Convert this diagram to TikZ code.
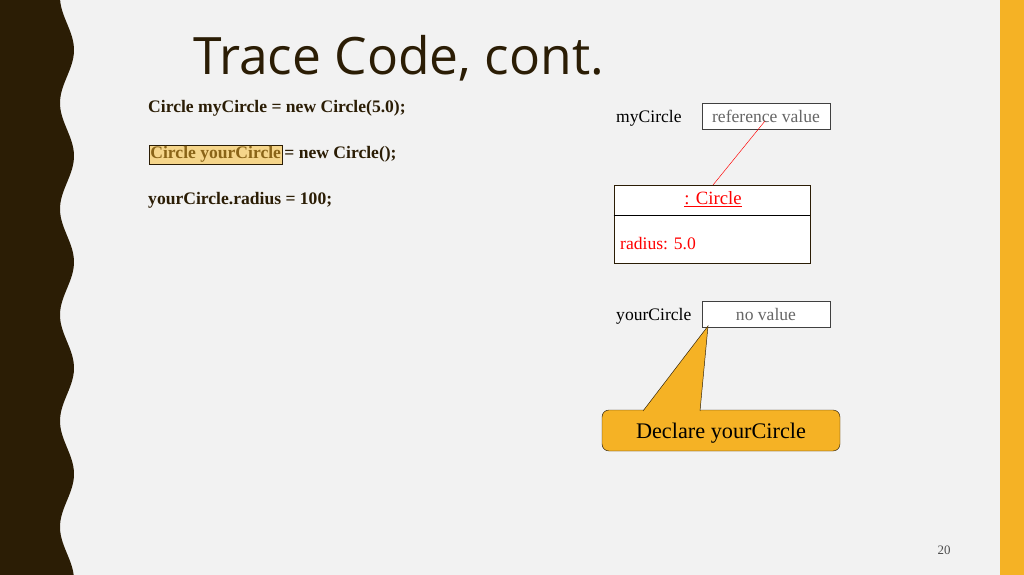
\documentclass[tikz,border=0pt]{standalone}
\usepackage{fontspec}
\setmainfont{Liberation Serif}
\newfontfamily\titlefont{Open Sans}
\usetikzlibrary{positioning}
\definecolor{darkbrown}{HTML}{2B1D05}
\definecolor{slidebg}{HTML}{F2F2F2}
\definecolor{amber}{HTML}{F5B225}
\definecolor{hilite}{HTML}{F5D58A}
\definecolor{hitext}{HTML}{8A6418}
\tikzset{
  code/.style={anchor=base west,font=\fontsize{15}{15}\selectfont\bfseries,text=darkbrown,inner sep=0pt},
  var/.style={anchor=base west,font=\fontsize{15}{15}\selectfont,inner sep=0pt},
  valbox/.style={draw=black!75,fill=white,minimum width=128*0.3mm,minimum height=26*0.3mm,inner sep=0pt,
    font=\fontsize{15}{15}\selectfont,text=black!60}
}
\begin{document}
\begin{tikzpicture}[x=0.3mm,y=-0.3mm]
  \useasboundingbox (0,0) rectangle (1024,575);
  \fill[slidebg] (0,0) rectangle (1024,575);
  \fill[amber] (1000,0) rectangle (1024,575);
  % wavy band on the left
  \fill[darkbrown] (0,0) -- plot[domain=0:575,samples=160,variable=\t]
    ({67+7*cos(3.396*(\t-50))},\t) -- (0,575) -- cycle;

  \node[anchor=base west,inner sep=0pt,font=\titlefont\fontsize{44}{44}\selectfont,text=darkbrown] (title) at (193,75) {Trace Code, cont.};

  \node[code] (line1) at (148,113) {Circle myCircle = new Circle(5.0);};
  \node[code,text=hitext,fill=hilite,draw=darkbrown,inner sep=1pt] (decl) at (149,159) {Circle yourCircle};
  \node[code,anchor=base west] (line2) at ([xshift=1.5pt]decl.base east) {= new Circle();};
  \node[code] (line3) at (148,205) {yourCircle.radius = 100;};

  \node[var] (mylbl) at (616,123) {myCircle};
  \node[valbox] (myval) at (766,116) {reference value};

  \node[draw=darkbrown,thick,fill=white,minimum width=196*0.3mm,minimum height=78*0.3mm,inner sep=0pt] (obj) at (712,224) {};
  \draw[thick] (obj.west |- 0,215) -- (obj.east |- 0,215);
  \node[font=\fontsize{16}{16}\selectfont,text=red] (objname) at (713,199) {\underline{: Circle}};
  \node[anchor=base west,font=\fontsize{15}{15}\selectfont,text=red,inner sep=0pt] (radius) at (620,250) {radius: 5.0};

  \coordinate (refend) at (713,185);
  \draw[red] (765,121) -- (refend);

  \node[var] (yourlbl) at (616,321) {yourCircle};
  \node[valbox] (yourval) at (766,314) {no value};

  \coordinate (tip) at (708,326);
  \filldraw[fill=amber,draw=darkbrown,rounded corners=6pt] (602,410) rectangle (840,451);
  \filldraw[fill=amber,draw=darkbrown] (643,411) -- (tip) -- (700,411);
  \node[font=\fontsize{19}{19}\selectfont,text=black] (callout) at (721,433) {Declare yourCircle};

  \node[font=\fontsize{11}{11}\selectfont,text=black!70] (pagenum) at (944,550) {20};
\end{tikzpicture}
\end{document}
